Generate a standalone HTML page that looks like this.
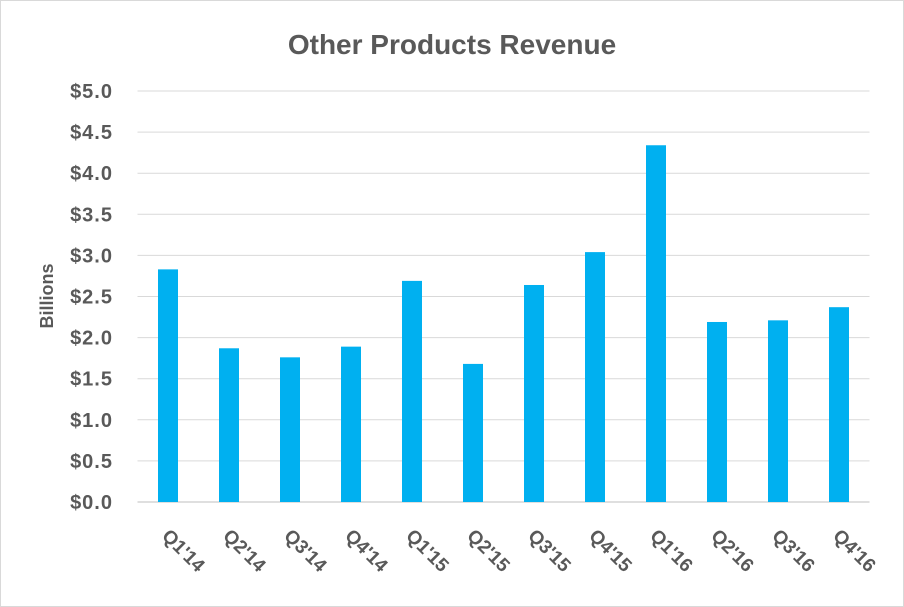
<!DOCTYPE html>
<html><head><meta charset="utf-8"><style>
html,body{margin:0;padding:0;background:#fff;}
svg{display:block;font-family:"Liberation Sans",sans-serif;}
</style></head><body>
<svg id="chart" width="904" height="607">
<rect x="0.5" y="0.5" width="903" height="606" fill="#fff" stroke="#d9d9d9"/>
<text x="452" y="54" text-anchor="middle" font-size="28" font-weight="bold" fill="#595959">Other Products Revenue</text>
<text transform="translate(53,296) rotate(-90)" text-anchor="middle" font-size="18" font-weight="bold" fill="#595959">Billions</text>
<g id="grid"></g><g id="bars"></g><g id="xlabels"></g>
</svg>
<script>
const categories=["Q1'14","Q2'14","Q3'14","Q4'14","Q1'15","Q2'15","Q3'15","Q4'15","Q1'16","Q2'16","Q3'16","Q4'16"];
const revenue=[2.83,1.87,1.76,1.89,2.69,1.68,2.64,3.04,4.34,2.19,2.21,2.37];
const yTicks=[0,0.5,1,1.5,2,2.5,3,3.5,4,4.5,5];
const yTickLabels=["$0.0","$0.5","$1.0","$1.5","$2.0","$2.5","$3.0","$3.5","$4.0","$4.5","$5.0"];
const NS="http://www.w3.org/2000/svg";
const left=137.5,right=869.5,y0=502,y5=91;
const band=(right-left)/categories.length;
function y(v){return y0-(v/5)*(y0-y5);}
function xc(i){return left+band*(i+0.5);}
const grid=document.getElementById('grid');
yTicks.forEach((t,i)=>{
  const l=document.createElementNS(NS,'line');
  l.setAttribute('x1',left);l.setAttribute('x2',right);
  l.setAttribute('y1',y(t));l.setAttribute('y2',y(t));
  l.setAttribute('stroke',i===0?'#bfbfbf':'#d9d9d9');l.setAttribute('stroke-width','1');
  
  
  grid.appendChild(l);
  const tx=document.createElementNS(NS,'text');
  tx.setAttribute('x',113);tx.setAttribute('y',y(t)+7);
  tx.setAttribute('text-anchor','end');tx.setAttribute('font-size','20');
  tx.setAttribute('letter-spacing','1');
  tx.setAttribute('font-weight','bold');tx.setAttribute('fill','#595959');
  tx.textContent=yTickLabels[i];
  
  
  grid.appendChild(tx);
});
const bars=document.getElementById('bars'),xl=document.getElementById('xlabels');
revenue.forEach((v,i)=>{
  const r=document.createElementNS(NS,'rect');
  r.setAttribute('x',xc(i)-10);r.setAttribute('width',20);
  r.setAttribute('y',y(v));r.setAttribute('height',y0-y(v));
  r.setAttribute('fill','#00b0f0');
  
  
  bars.appendChild(r);
  const t=document.createElementNS(NS,'text');
  t.setAttribute('transform','translate('+(xc(i)-7)+',537) rotate(45)');
  t.setAttribute('font-size','19');t.setAttribute('font-weight','bold');t.setAttribute('fill','#595959');
  t.textContent=categories[i];
  
  
  xl.appendChild(t);
});
</script>
</body></html>
